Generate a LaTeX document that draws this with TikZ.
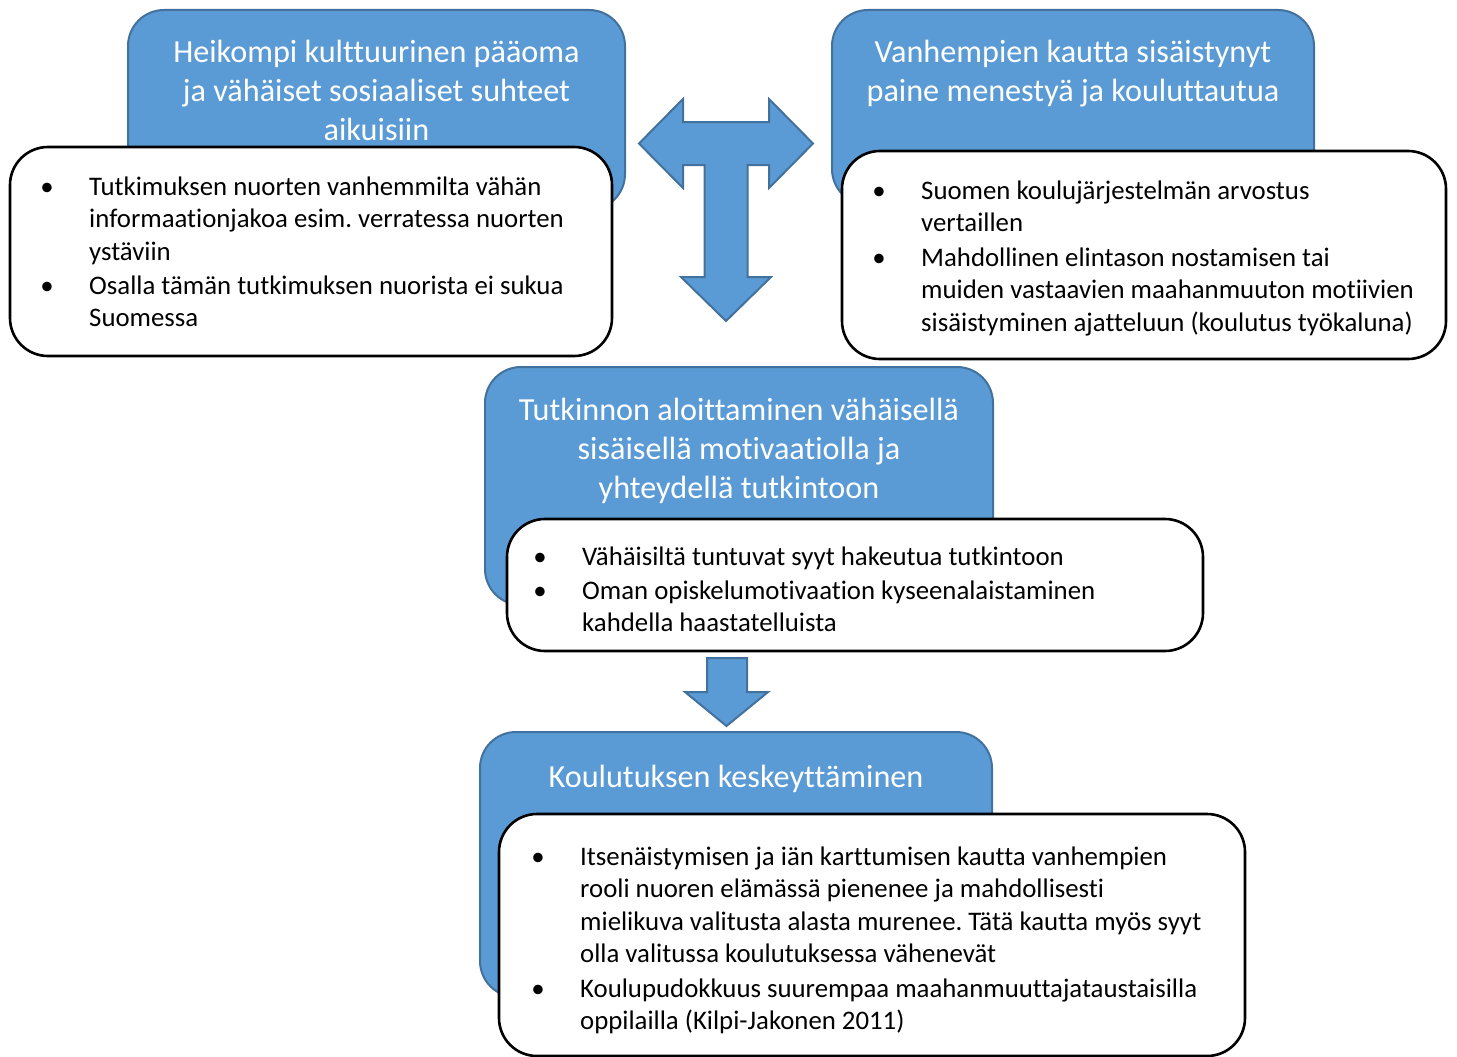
\documentclass[tikz,border=0pt]{standalone}
\usepackage{fontspec}
\setmainfont[RawFeature={-liga;-clig;-calt;-dlig}]{Carlito}
\frenchspacing
\definecolor{bfill}{HTML}{5B9BD5}
\definecolor{bline}{HTML}{41719C}
\begin{document}
\begin{tikzpicture}[x=1pt,y=-1pt,
  bluebox/.style={draw=bline,fill=bfill,line width=2pt,rounded corners=36pt},
  whitebox/.style={draw=black,fill=white,line width=2.6pt,rounded corners=38pt},
  blockarrow/.style={draw=bline,fill=bfill,line width=2pt,line join=miter},
  title/.style={text=white,font=\fontsize{32.2}{39}\selectfont,align=center,inner sep=0pt,anchor=base},
  body/.style={text=black,font=\fontsize{26.8}{32.5}\selectfont,align=left,inner sep=0pt,anchor=base west},
  bul/.style={text=black,font=\fontsize{26.8}{32.5}\selectfont,inner sep=0pt,anchor=base}]
\useasboundingbox (0,0) rectangle (1457,1057);
% blue boxes
\draw[bluebox] (128,10) rectangle (625,210);
\draw[bluebox] (832,10) rectangle (1314,205);
\draw[bluebox] (485,367) rectangle (993,605);
\draw[bluebox] (480,732) rectangle (992,997);
% white boxes
\draw[whitebox] (10,147) rectangle (612,356);
\draw[whitebox] (842,151) rectangle (1446,359);
\draw[whitebox] (507,519) rectangle (1203,651);
\draw[whitebox] (499,814) rectangle (1245,1056);
% T arrow
\draw[blockarrow] (639,143.5) -- (683,99) -- (683,122) -- (769,122) -- (769,99) -- (813,143.5)
  -- (769,188) -- (769,165) -- (747.5,165) -- (747.5,277) -- (771,277) -- (726,321)
  -- (681,277) -- (704.5,277) -- (704.5,165) -- (683,165) -- (683,188) -- cycle;
% down arrow
\draw[blockarrow] (707,658) -- (747,658) -- (747,692) -- (768,692) -- (726.5,726)
  -- (685,692) -- (707,692) -- cycle;
% titles (anchor = baseline of last line)
\node[title] (t1) at (376.5,140) {Heikompi kulttuurinen pääoma\\ja vähäiset sosiaaliset suhteet\\aikuisiin};
\node[title] (t2) at (1073,101) {Vanhempien kautta sisäistynyt\\paine menestyä ja kouluttautua};
\node[title] (t3) at (739,498) {Tutkinnon aloittaminen vähäisellä\\sisäisellä motivaatiolla ja\\yhteydellä tutkintoon};
\node[title] (t4) at (736,787) {Koulutuksen keskeyttäminen};
% box 1 bullets
\node[bul] (b1a) at (47,195) {•};
\node[body] (i1a) at (89,260) {Tutkimuksen nuorten vanhemmilta vähän\\informaationjakoa esim. verratessa nuorten\\ystäviin};
\node[bul] (b1b) at (47,294) {•};
\node[body] (i1b) at (89,326.5) {Osalla tämän tutkimuksen nuorista ei sukua\\Suomessa};
% box 2 bullets
\node[bul] (b2a) at (879,199) {•};
\node[body] (i2a) at (921,231.5) {Suomen koulujärjestelmän arvostus\\vertaillen};
\node[bul] (b2b) at (879,266) {•};
\node[body] (i2b) at (921,331) {Mahdollinen elintason nostamisen tai\\muiden vastaavien maahanmuuton motiivien\\sisäistyminen ajatteluun (koulutus työkaluna)};
% box 3 bullets
\node[bul] (b3a) at (540,565) {•};
\node[body] (i3a) at (582,565) {Vähäisiltä tuntuvat syyt hakeutua tutkintoon};
\node[bul] (b3b) at (540,599) {•};
\node[body] (i3b) at (582,631.5) {Oman opiskelumotivaation kyseenalaistaminen\\kahdella haastatelluista};
% box 4 bullets
\node[bul] (b4a) at (538,865) {•};
\node[body] (i4a) at (580,962.5) {Itsenäistymisen ja iän karttumisen kautta vanhempien\\rooli nuoren elämässä pienenee ja mahdollisesti\\mielikuva valitusta alasta murenee. Tätä kautta myös syyt\\olla valitussa koulutuksessa vähenevät};
\node[bul] (b4b) at (538,997) {•};
\node[body] (i4b) at (580,1029.5) {Koulupudokkuus suurempaa maahanmuuttajataustaisilla\\oppilailla (Kilpi-Jakonen 2011)};
\end{tikzpicture}
\end{document}
